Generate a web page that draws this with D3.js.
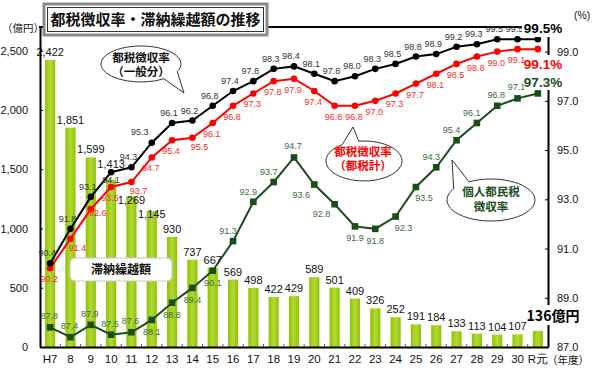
<!DOCTYPE html>
<html><head><meta charset="utf-8">
<script src="https://cdn.jsdelivr.net/npm/d3@7"></script>
<style>
html,body{margin:0;padding:0;background:#fff;}
svg{display:block;}
</style></head>
<body>
<svg id="chart" width="597" height="368"></svg>
<script>
const categories = ["H7","8","9","10","11","12","13","14","15","16","17","18","19","20","21","22","23","24","25","26","27","28","29","30","R元"];
const arrears = [2422,1851,1599,1413,1269,1145,930,737,667,569,498,422,429,589,501,409,326,252,191,184,133,113,104,107,136];
const rateGeneral = [90.4,91.8,93.1,94.1,94.3,95.3,96.1,96.2,96.8,97.4,97.8,98.3,98.4,98.1,97.8,98.0,98.3,98.5,98.8,98.9,99.2,99.3,99.5,99.5,99.5];
const rateTotal = [90.2,91.4,92.6,93.5,93.7,94.7,95.4,95.5,96.1,96.8,97.3,97.8,97.9,97.4,96.8,96.8,97.0,97.3,97.7,98.1,98.5,98.8,99.0,99.1,99.1];
const rateResident = [87.8,87.4,87.9,87.5,87.6,88.1,88.8,89.4,90.1,91.3,92.9,93.7,94.7,93.6,92.8,91.9,91.8,92.3,93.5,94.3,95.4,96.1,96.8,97.1,97.3];
const leftTicks = [0,500,1000,1500,2000,2500];
const rightTicks = [87,89,91,93,95,97,99];

// label placement codes (style only)
const barLabelPos = ["a","a","a","hi","lo","lo","a","a","a","a","a","a","a","a","a","a","a","a","a","a","a","a","a","a",null];
const generalPos = ["a","a","a","b","a","al","a","a","a","a","a","a","a","a","a","a","a","a","a","a","a","a","a","a",null];
const totalPos = ["b","br","r","b","br","b","b","br","b","b","b","b","b","b","b","b","b","b","b","b","b","b","b","b",null];
const residentPos = ["a","a","a","a","a","b","b","b","b","al","al","al","a","bl","bl","b","b","br","br","al","al","al","a","a",null];

const svg = d3.select("#chart");
const X0 = 40, X1 = 548, Y0 = 27, Y1 = 347;
const NUM = "'Liberation Sans', Arial, sans-serif";
const JP = "'Noto Sans CJK JP', sans-serif";

const x = d3.scaleBand().domain(categories).range([X0, X1]).paddingInner(0.5).paddingOuter(0.25);
const cx = d => x(d) + x.bandwidth() / 2;
const yL = d3.scaleLinear().domain([0, 2700]).range([Y1, Y0]);
const yR = d3.scaleLinear().domain([87, 100]).range([Y1, Y0]);

const defs = svg.append("defs");
const grad = defs.append("linearGradient").attr("id", "barGrad").attr("x1", "0").attr("x2", "1").attr("y1", "0").attr("y2", "0");
grad.append("stop").attr("offset", "0").attr("stop-color", "#8fc300");
grad.append("stop").attr("offset", "0.5").attr("stop-color", "#b3d93a");
grad.append("stop").attr("offset", "1").attr("stop-color", "#8fc300");

// bars
svg.append("g").selectAll("rect").data(arrears).join("rect")
  .attr("x", (d, i) => x(categories[i]))
  .attr("y", d => yL(d))
  .attr("width", x.bandwidth())
  .attr("height", d => Y1 - yL(d))
  .attr("fill", "url(#barGrad)");

// bar labels (last one shown as big label)
const barOff = {a: -4, hi: -12, lo: 7};
svg.append("g").selectAll("text").data(arrears).join("text")
  .filter((d, i) => barLabelPos[i])
  .attr("x", (d, i) => cx(categories[i]))
  .attr("y", (d, i) => yL(d) + barOff[barLabelPos[i]])
  .attr("text-anchor", "middle")
  .attr("font-family", NUM).attr("font-size", "11px").attr("fill", "#111")
  .text(d => d3.format(",")(d));

// axes
const axL = svg.append("g").attr("transform", `translate(${X0},0)`)
  .call(d3.axisLeft(yL).tickValues(leftTicks).tickSize(-3).tickSizeOuter(0).tickPadding(12).tickFormat(d3.format(",")));
const axR = svg.append("g").attr("transform", `translate(${X1},0)`)
  .call(d3.axisRight(yR).tickValues(rightTicks).tickSize(-3).tickSizeOuter(0).tickPadding(9).tickFormat(d3.format(".1f")));
const axB = svg.append("g").attr("transform", `translate(0,${Y1})`)
  .call(d3.axisBottom(x).tickSize(0).tickPadding(8));
[axL, axR, axB].forEach(g => {
  g.select(".domain").attr("stroke", "#000").attr("stroke-width", 2);
  g.selectAll(".tick line").attr("stroke", "#000");
  g.selectAll("text").attr("font-family", NUM).attr("font-size", "11px").attr("fill", "#111");
});
axB.selectAll("text").attr("font-size", "11.5px");
// minor ticks between categories on bottom axis
svg.append("g").selectAll("line").data(categories.slice(1)).join("line")
  .attr("x1", d => x(d) - x.step() * 0.25).attr("x2", d => x(d) - x.step() * 0.25)
  .attr("y1", Y1).attr("y2", Y1 - 3).attr("stroke", "#555");
// top frame line
svg.append("line").attr("x1", X0 - 1).attr("x2", X1 + 1).attr("y1", Y0).attr("y2", Y0).attr("stroke", "#000").attr("stroke-width", 2);

// lines
function drawSeries(values, color, marker, posCodes, offsets, labelColor) {
  const line = d3.line().x((d, i) => cx(categories[i])).y(d => yR(d));
  svg.append("path").datum(values).attr("d", line).attr("fill", "none").attr("stroke", color).attr("stroke-width", 2);
  const g = svg.append("g");
  if (marker === "circle") {
    g.selectAll("circle").data(values).join("circle")
      .attr("cx", (d, i) => cx(categories[i])).attr("cy", d => yR(d)).attr("r", 3.3).attr("fill", color);
  } else {
    g.selectAll("rect").data(values).join("rect")
      .attr("x", (d, i) => cx(categories[i]) - 3.3).attr("y", d => yR(d) - 3.3)
      .attr("width", 6.6).attr("height", 6.6).attr("fill", color);
  }
  svg.append("g").selectAll("text").data(values).join("text")
    .filter((d, i) => posCodes[i])
    .attr("x", (d, i) => cx(categories[i]) + offsets[posCodes[i]][0])
    .attr("y", (d, i) => yR(d) + offsets[posCodes[i]][1])
    .attr("text-anchor", "middle")
    .attr("font-family", NUM).attr("font-size", "9px").attr("fill", labelColor)
    .text(d => d.toFixed(1));
}
drawSeries(rateResident, "#1b4d1b", "square", residentPos,
  {a: [-1, -8], b: [0, 15], al: [-5, -7], bl: [-13, 13], br: [8, 14]}, "#3c6b3c");
drawSeries(rateTotal, "#ff0000", "circle", totalPos,
  {b: [-1, 14], br: [7, 12], r: [7, 7]}, "#ff2a2a");
drawSeries(rateGeneral, "#000000", "circle", generalPos,
  {a: [-3, -7], al: [-12, -8], b: [0, 11]}, "#333333");

// callout bubbles
function bubble(cxp, cyp, rx, ry, ta, tb, tip, stroke) {
  const p = a => [cxp + rx * Math.cos(a * Math.PI / 180), cyp + ry * Math.sin(a * Math.PI / 180)];
  const pa = p(ta), pb = p(tb);
  svg.append("path")
    .attr("d", `M${pb[0]},${pb[1]} A${rx},${ry} 0 1 1 ${pa[0]},${pa[1]} L${tip[0]},${tip[1]} Z`)
    .attr("fill", "#fff").attr("stroke", stroke).attr("stroke-width", 1);
}
bubble(141, 64, 40, 18, 25, 55, [184, 93], "#333");
bubble(364, 161, 38, 20, 235, 262, [353, 127], "#333");
bubble(491, 200, 44, 21, 212, 240, [452, 160], "#333");

function twoLines(xc, y1, y2, t1, t2, color) {
  [[y1, t1], [y2, t2]].forEach(([yy, t]) => {
    svg.append("text").attr("x", xc).attr("y", yy).attr("text-anchor", "middle")
      .attr("font-family", JP).attr("font-weight", "bold").attr("font-size", "11.5px").attr("fill", color).text(t);
  });
}
twoLines(141, 62, 76, "都税徴収率", "（一般分）", "#111");
twoLines(363, 156, 170, "都税徴収率", "（都税計）", "#ff0000");
twoLines(491, 196, 211, "個人都民税", "徴収率", "#1b4d1b");

// arrears label box
svg.append("rect").attr("x", 70).attr("y", 258).attr("width", 102).attr("height", 23).attr("rx", 5)
  .attr("fill", "#fff").attr("stroke", "#c8c8c8").attr("stroke-width", 1);
svg.append("text").attr("x", 121).attr("y", 274).attr("text-anchor", "middle")
  .attr("font-family", JP).attr("font-weight", "bold").attr("font-size", "12px").attr("fill", "#111").text("滞納繰越額");

// big end labels with white backgrounds
svg.append("rect").attr("x", 522).attr("y", 17).attr("width", 75).attr("height", 20).attr("fill", "#fff");
svg.append("rect").attr("x", 524).attr("y", 55).attr("width", 33).attr("height", 35).attr("fill", "#fff");
svg.append("rect").attr("x", 527).attr("y", 305).attr("width", 55).attr("height", 20).attr("fill", "#fff");
const bigLabels = [
  {t: rateGeneral[rateGeneral.length - 1].toFixed(1) + "%", y: 32.5, c: "#000"},
  {t: rateTotal[rateTotal.length - 1].toFixed(1) + "%", y: 69, c: "#ff0000"},
  {t: rateResident[rateResident.length - 1].toFixed(1) + "%", y: 87, c: "#1b4d1b"}
];
bigLabels.forEach(b => {
  svg.append("text").attr("x", 543).attr("y", b.y).attr("text-anchor", "middle")
    .attr("font-family", NUM).attr("font-weight", "bold").attr("font-size", "13.5px").attr("fill", b.c).text(b.t);
});
svg.append("text").attr("x", 553).attr("y", 320.5).attr("text-anchor", "middle")
  .attr("font-family", JP).attr("font-weight", "bold").attr("font-size", "14px").attr("fill", "#000")
  .text(arrears[arrears.length - 1] + "億円");

// unit labels
svg.append("text").attr("x", 2).attr("y", 32).attr("font-family", JP).attr("font-size", "10.5px").attr("fill", "#111").text("（億円）");
svg.append("text").attr("x", 574).attr("y", 19).attr("font-family", NUM).attr("font-size", "10.5px").attr("fill", "#111").text("(%)");
svg.append("text").attr("x", 547).attr("y", 364).attr("font-family", JP).attr("font-size", "10.5px").attr("fill", "#111").text("（年度）");

// title box
svg.append("rect").attr("x", 44).attr("y", 4).attr("width", 223).attr("height", 31)
  .attr("fill", "#fff").attr("stroke", "#8a8a8a").attr("stroke-width", 3);
svg.append("rect").attr("x", 47.5).attr("y", 7.5).attr("width", 216).attr("height", 24)
  .attr("fill", "#fff").attr("stroke", "#333").attr("stroke-width", 1);
svg.append("text").attr("x", 155.5).attr("y", 25).attr("text-anchor", "middle")
  .attr("font-family", JP).attr("font-weight", "bold").attr("font-size", "15px").attr("fill", "#111")
  .text("都税徴収率・滞納繰越額の推移");
</script>
</body></html>
